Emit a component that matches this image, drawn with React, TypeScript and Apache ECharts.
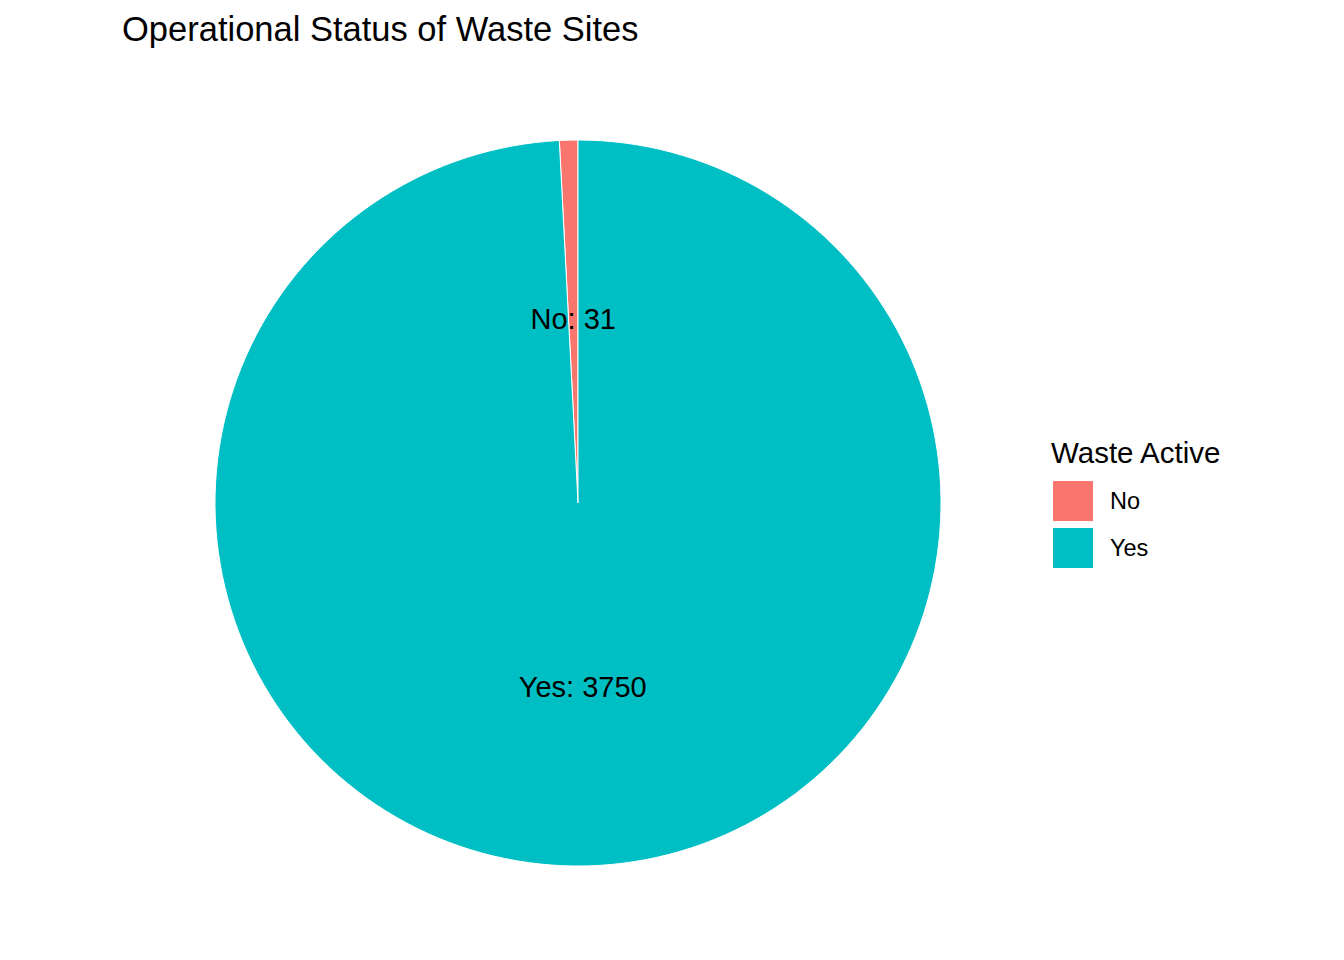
import * as echarts from 'echarts';
import { useEffect, useRef } from 'react';

const categories = ['No', 'Yes'];
const counts = [31, 3750];
const colors = ['#F8766D', '#00BFC4'];

const FONT = '"Liberation Sans", Arial, sans-serif';

const App: React.FC = () => {
  const chartRef = useRef<HTMLDivElement | null>(null);

  useEffect(() => {
    if (!chartRef.current) return;
    document.body.style.margin = '0';

    const chart = echarts.init(chartRef.current, null, { renderer: 'svg' });

    const pieData = categories.map((name, i) => ({
      name,
      value: counts[i],
      itemStyle: { color: colors[i] }
    }));

    const option: echarts.EChartsOption = {
      animation: false,
      backgroundColor: '#ffffff',
      title: [
        {
          text: 'Operational Status of Waste Sites',
          left: 122,
          top: 11,
          padding: 0,
          textStyle: { fontFamily: FONT, fontSize: 34.5, fontWeight: 'normal', color: '#000' }
        },
        {
          text: 'Waste Active',
          left: 1051,
          top: 437,
          padding: 0,
          textStyle: { fontFamily: FONT, fontSize: 29.5, fontWeight: 'normal', color: '#000' }
        }
      ],
      legend: {
        orient: 'vertical',
        left: 1053,
        top: 481,
        padding: 0,
        icon: 'rect',
        itemWidth: 40,
        itemHeight: 40,
        itemGap: 7,
        data: categories,
        itemStyle: { borderWidth: 0 },
        textStyle: {
          fontFamily: FONT,
          fontSize: 23.5,
          color: '#000',
          padding: [0, 0, 0, 12]
        }
      },
      series: [
        {
          type: 'pie',
          center: [578, 503],
          radius: [0, 363],
          startAngle: 90,
          clockwise: false,
          data: pieData,
          itemStyle: { borderColor: '#ffffff', borderWidth: 1 },
          label: {
            show: true,
            position: 'inside',
            formatter: '{b}: {c}',
            fontFamily: FONT,
            fontSize: 29,
            color: '#000'
          },
          labelLine: { show: false },
          emphasis: { disabled: true }
        }
      ]
    };

    chart.setOption(option);

    return () => {
      chart.dispose();
    };
  }, []);

  return <div ref={chartRef} style={{ width: 1344, height: 960 }} />;
};

export default App;
